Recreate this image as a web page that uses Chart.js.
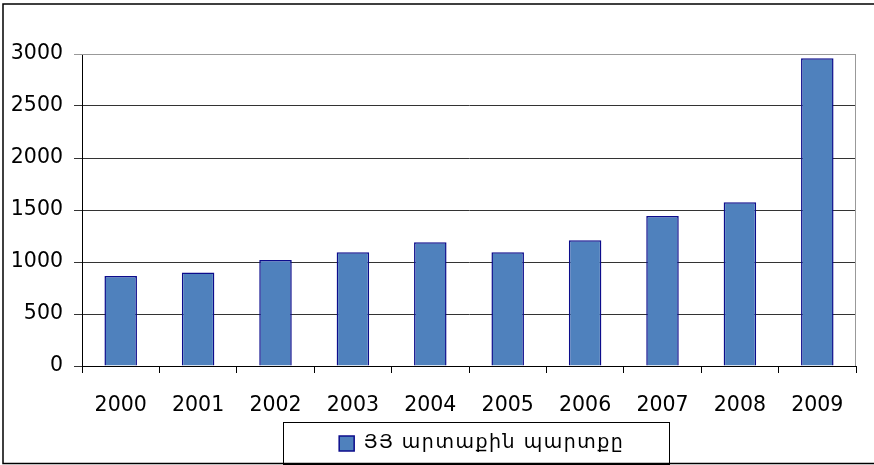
<!DOCTYPE html>
<html>
<head>
<meta charset="utf-8">
<script src="https://cdn.jsdelivr.net/npm/chart.js@4/dist/chart.umd.min.js"></script>
<style>
  html, body { margin: 0; padding: 0; background: #fff; }
  #wrap { width: 874px; height: 465px; }
</style>
</head>
<body>
<div id="wrap"><canvas id="debt" width="874" height="465"></canvas></div>
<script>
var years = ['2000', '2001', '2002', '2003', '2004', '2005', '2006', '2007', '2008', '2009'];
var debt = [865, 900, 1019, 1093, 1190, 1093, 1208, 1442, 1574, 2958];
var seriesName = 'ՅՅ արտաքին պարտքը';
var yTicks = [0, 500, 1000, 1500, 2000, 2500, 3000];

var font = "'DejaVu Sans', sans-serif";

// frames: outer border, plot border, legend box
var frames = {
    id: 'frames',
    beforeDraw: function (chart) {
        var c = chart.ctx;
        var lg = chart.legend;
        if (lg && !lg._spaced) {
            var orig = lg.draw;
            lg.draw = function () {
                c.save();
                c.letterSpacing = '1.5px';
                orig.apply(this, arguments);
                c.restore();
            };
            lg._spaced = true;
        }
        c.save();
        c.strokeStyle = '#000';
        c.lineWidth = 1.5;
        c.strokeRect(3, 4, 900, 459.5);
        c.restore();
    },
    beforeDatasetsDraw: function (chart) {
        var a = chart.chartArea, c = chart.ctx;
        c.save();
        c.strokeStyle = '#999';
        c.lineWidth = 1;
        c.beginPath();
        c.moveTo(a.left, a.top + 0.5);
        c.lineTo(a.right - 0.5, a.top + 0.5);
        c.lineTo(a.right - 0.5, a.bottom);
        c.stroke();
        c.restore();
    },
    afterDraw: function (chart) {
        var lg = chart.legend, c = chart.ctx;
        var hb = lg.legendHitBoxes[0];
        c.save();
        c.strokeStyle = '#000';
        c.lineWidth = 1;
        c.strokeRect(Math.round(hb.left - 56) + 0.5, Math.round(lg.top) - 0.5, 386, 42);
        c.restore();
    }
};

var ctx = document.getElementById('debt').getContext('2d');
var chart = new Chart(ctx, {
    type: 'bar',
    data: {
        labels: years,
        datasets: [{
            label: seriesName,
            data: debt,
            backgroundColor: '#4F81BD',
            borderColor: '#0C0C8C',
            borderWidth: 1.5,
            barPercentage: 0.42,
            categoryPercentage: 1
        }]
    },
    options: {
        responsive: false,
        animation: false,
        layout: { padding: { left: 0, right: 18, top: 54, bottom: 2 } },
        plugins: {
            tooltip: { enabled: false },
            legend: {
                position: 'bottom',
                fullSize: false,
                labels: {
                    font: { family: font, size: 19 },
                    color: '#000',
                    boxWidth: 15,
                    boxHeight: 15,
                    padding: 11
                }
            }
        },
        scales: {
            x: {
                afterFit: function (s) { s.height = 57; },
                grid: { drawOnChartArea: false, drawTicks: true, tickLength: 7, color: '#000', offset: true },
                border: { color: '#000', width: 1 },
                ticks: { font: { family: font, size: 20.5 }, color: '#000', padding: 20, maxRotation: 0 }
            },
            y: {
                min: 0,
                max: 3000,
                afterFit: function (s) { s.width = 82; },
                afterBuildTicks: function (s) { s.ticks = yTicks.map(function (v) { return { value: v }; }); },
                grid: {
                    color: function (c) { return c.tick && c.tick.value === 3000 ? '#999' : '#333'; },
                    tickLength: 8
                },
                border: { color: '#000', width: 1 },
                ticks: {
                    font: { family: font, size: 20.5 },
                    color: '#000',
                    padding: 11,
                    callback: function (v) { return String(v); }
                }
            }
        }
    },
    plugins: [frames]
});
</script>
</body>
</html>
